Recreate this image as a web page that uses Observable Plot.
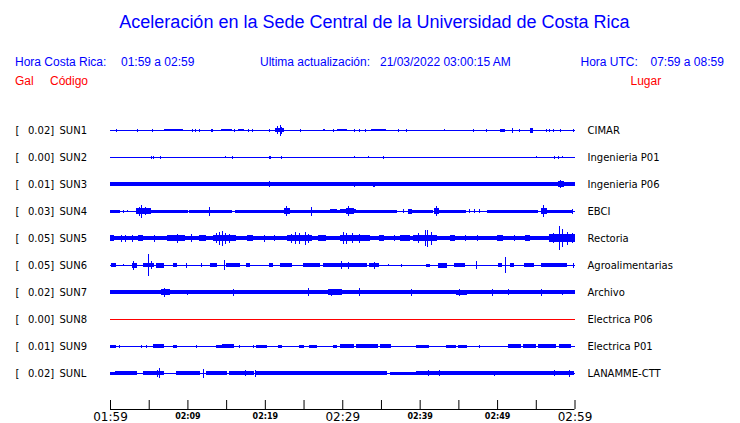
<!DOCTYPE html>
<html><head><meta charset="utf-8">
<script src="https://cdn.jsdelivr.net/npm/d3@7"></script>
<script src="https://cdn.jsdelivr.net/npm/@observablehq/plot@0.6"></script>
<style>
body{margin:0;background:#fff;}
#wrap{position:relative;width:740px;height:423px;overflow:hidden;font-family:"Liberation Sans",Arial,sans-serif;}
#chart{position:absolute;left:0;top:0;}
.h{position:absolute;white-space:nowrap;line-height:1;}
.b{color:#0000ff;font-size:12px;}
.r{color:#ff0000;font-size:12px;}
#title{left:0;width:749px;text-align:center;font-size:18px;color:#0000ff;top:12.5px;}
</style></head><body>
<div id="wrap">
<div id="chart"></div>
<div class="h" id="title">Aceleración en la Sede Central de la Universidad de Costa Rica</div>
<div class="h b" style="left:15px;top:55.5px">Hora Costa Rica:</div>
<div class="h b" style="left:121px;top:55.5px">01:59 a 02:59</div>
<div class="h b" style="left:260px;top:55.5px">Ultima actualización:</div>
<div class="h b" style="left:380px;top:55.5px">21/03/2022 03:00:15 AM</div>
<div class="h b" style="left:580.5px;top:55.5px">Hora UTC:</div>
<div class="h b" style="left:650.5px;top:55.5px">07:59 a 08:59</div>
<div class="h r" style="left:15px;top:74.5px">Gal</div>
<div class="h r" style="left:50px;top:74.5px">Código</div>
<div class="h r" style="left:630.5px;top:74.5px">Lugar</div>
</div>
<script>
// ---- data ----
const stations = ["SUN1","SUN2","SUN3","SUN4","SUN5","SUN6","SUN7","SUN8","SUN9","SUNL"];
const gals = ["0.02","0.00","0.01","0.03","0.05","0.05","0.02","0.00","0.01","0.02"];
const places = ["CIMAR","Ingenieria P01","Ingenieria P06","EBCI","Rectoria","Agroalimentarias","Archivo","Electrica P06","Electrica P01","LANAMME-CTT"];
const offline = ["SUN8"];
// background (noise) half-amplitude per station, relative units
const baseAmp = [0.5,0.5,1.6,0.5,2.2,0.5,1.7,0.5,0.5,0.5];
// envelope events: [minute start, minute end, half-amplitude]
const sun1 = [[0.87,0.87,1.5],[3.58,3.58,1.5],[5.52,5.52,1.5],[7.01,9.34,1.3],[10.63,10.63,1.5],[11.07,11.07,1.5],[11.62,11.62,1.5],[13.05,13.05,1.5],[13.27,13.27,1.5],[14.43,15.63,1.3],[16.06,16.06,1.5],[16.66,17.22,1.3],[17.86,17.86,1.5],[18.43,18.43,1.5],[20.58,20.58,1.5],[21.40,22.38,2.3],[21.7,21.7,4],[21.96,21.96,5.5],[22.15,22.15,3.5],[24.67,24.67,1.5],[27.55,27.77,1.3],[28.84,28.84,1.5],[29.45,30.61,1.3],[31.56,31.56,1.5],[32.29,32.29,1.5],[32.94,32.94,1.5],[33.80,35.61,1.3],[37.24,37.24,1.5],[38.32,38.32,1.5],[43.18,43.18,1],[46.93,46.93,1.5],[48.57,48.57,1.5],[50.50,50.93,1.5],[51.96,51.96,2.5],[52.96,52.96,1.5],[54.38,54.60,2.5],[56.32,56.32,1.5],[56.83,56.83,1.5],[57.26,57.26,1.5],[58.21,58.21,1.5],[59.84,59.84,1.5]];
const sun2 = [[5.39,5.39,1.5],[5.68,5.68,1.5],[6.52,6.52,1.5],[14.98,14.98,1],[15.82,15.82,1.5],[20.58,20.76,1.5],[22.09,22.09,1.5],[31.6,31.6,1],[33.45,33.45,1],[35.33,35.33,1.5],[55.09,55.09,1],[57.39,57.39,1.5],[57.99,57.99,1.5],[58.51,58.51,1]];
const sun3 = [[0.22,1.72,2],[1.85,1.85,2.2],[3.87,3.87,2.2],[4.17,4.17,2.2],[5.90,5.90,2.2],[7.01,7.01,2.2],[10.11,10.11,2.2],[12.27,12.27,2.2],[13.05,13.05,2.2],[17.22,17.22,2.2],[18.30,18.30,2.2],[20.58,20.58,3],[21.61,21.61,2.2],[26.91,26.91,2.2],[29.49,29.49,2.2],[31.56,31.56,2.5],[34.01,34.23,2.5],[35.22,35.22,2.2],[37.68,37.68,2.2],[38.45,38.45,2.2],[41.76,41.76,2.2],[43.92,43.92,2.2],[46.28,46.28,2.2],[49.30,49.30,2.2],[50.67,50.67,2.2],[57.90,58.55,3],[58.2,58.2,4]];
const sun4 = [[0,1.29,1.5],[1.68,1.68,1.5],[2.32,2.32,1.2],[3.45,5.17,2.7],[3.75,3.75,4.5],[4.09,4.09,6.5],[4.65,4.65,4],[5.17,10.07,1.5],[10.33,15.63,1.5],[12.83,12.83,4.5],[16.27,22.60,1.5],[22.48,23.25,2.7],[22.82,22.82,5],[23.25,29.71,1.5],[26.05,26.05,4.5],[28.42,29.32,2],[29.71,31.77,1.7],[30.57,31.43,3],[30.87,30.87,5],[31.77,37.07,1.5],[37.85,37.85,2],[38.53,38.97,2.5],[38.97,41.72,1.5],[41.98,42.49,2.7],[42.20,42.20,5],[42.49,45.98,1.5],[46.50,46.50,2],[47.02,47.02,2],[47.79,47.79,1.8],[48.82,55.28,1.5],[55.76,56.41,3.2],[56.06,56.06,6],[56.57,59.8,1.5],[59.8,59.8,2.5]];
const sun5 = [[0,0.4,3],[1.51,1.51,3.5],[1.94,1.94,3.5],[2.93,2.93,3.5],[3.62,4.26,3],[5.81,5.81,3.5],[7.49,9.56,3],[8.78,8.78,4.5],[10.55,10.55,4],[11.62,12.40,3],[13.43,16.27,3.3],[13.8,13.8,5],[14.08,14.08,6.5],[14.47,14.47,7.5],[14.98,14.98,5.5],[15.5,15.5,4.5],[17.70,18.47,3.3],[20.02,20.02,3.5],[21.31,21.31,3],[22.99,26.09,3.3],[23.5,23.5,4.5],[24.02,24.02,6],[24.54,24.54,5.5],[25.19,25.19,6.5],[25.7,25.7,4.5],[26.87,27.90,3],[29.71,33.58,3.3],[30.10,30.10,6],[30.61,30.61,5.5],[31.26,31.26,5],[32.2,32.2,4.5],[34.87,35.39,3],[36.81,36.81,3],[37.46,38.75,3],[39.14,42.11,3.3],[39.9,39.9,5],[40.69,40.69,8],[41.07,41.07,8.5],[41.59,41.59,6.5],[43.92,44.56,3],[45.98,45.98,3],[47.53,47.53,3],[49.99,50.76,3.2],[52.31,52.31,3],[53.61,54.25,3.2],[56.83,60,3.7],[57.3,57.3,5],[58.12,58.12,12],[58.51,58.51,9],[59.16,59.16,6.5],[59.7,59.7,5]];
const sun6 = [[0.13,0.65,2],[1.72,1.72,1],[2.93,3.36,2.5],[3.10,3.10,4.5],[4.30,5.68,2.3],[4.95,4.95,11],[5.30,5.30,4],[6.03,6.88,2.5],[8.18,8.62,2.2],[9.82,9.82,2.5],[11.79,11.79,2],[12.92,13.78,2],[14.85,14.85,5],[15.07,16.79,1.8],[17.66,17.99,2],[20.58,21.02,2],[21.96,23.47,2.2],[24.97,27.12,1.8],[27.55,29.28,1.6],[29.28,33.16,2.2],[29.84,29.84,4],[30.78,30.78,3.5],[33.58,34.66,2.2],[34.23,34.23,3.5],[35.95,35.95,1.2],[37.68,37.68,1.5],[40.91,41.24,1.5],[42.40,43.49,2.5],[44.56,45.85,2.2],[47.37,47.37,4],[50.16,50.59,2.2],[51.15,51.15,8],[51.67,52.09,2],[53.60,54.68,2.2],[55.76,58.99,1.6],[59.84,59.84,2.5]];
const sun7 = [[4.74,5.59,2.3],[6.68,7.75,2.8],[7.10,7.10,4.5],[9.98,9.98,2.5],[12.05,12.05,2.2],[15.93,15.93,3.5],[25.61,25.61,4],[28.20,29.93,2.7],[28.6,28.6,3.5],[32.29,32.29,4],[38.97,38.97,3.5],[44.78,46.07,2.5],[45.2,45.2,3.5],[49.43,49.43,3.5],[51.45,51.45,3],[52.53,53.39,2.3],[55.76,55.76,3.5],[58.47,58.47,2.5]];
const sun8 = [];
const sun9 = [[0,0.65,1.5],[1.29,1.29,1.5],[4.09,4.09,1.5],[4.74,4.74,1.5],[5.68,6.88,1.8],[8.18,8.62,1.5],[11.20,11.20,1.5],[13.78,14.43,1.5],[14.56,15.93,1.8],[16.79,16.79,1.5],[18.51,18.51,1.5],[18.95,20.24,1.5],[21.74,22.17,1.5],[24.54,24.97,1.5],[25.83,26.70,1.5],[28.84,29.28,1.5],[29.71,31.43,1.6],[31.86,33.58,1.6],[33.58,34.5,1.6],[34.9,36.17,1.6],[39.61,41.11,1.5],[43.49,44.6,1.5],[45.0,46.07,1.5],[47.79,47.79,1.5],[51.45,53.0,1.6],[53.4,55.0,1.6],[55.4,57.6,1.6],[58.0,59.42,1.6]];
const sunL = [[0,0.65,1.5],[0.65,3.45,2],[4.30,5.17,2],[5.39,6.88,2.3],[6.1,6.1,3.5],[6.39,6.39,5],[8.62,11.62,2],[12.05,12.05,4.5],[12.49,15.07,2],[15.50,18.51,2],[17.44,17.44,3],[18.73,18.73,3.5],[18.95,35.74,2],[36.17,39.61,1.5],[39.61,59.84,2],[41.11,41.11,3],[42.62,42.62,3],[49.73,49.73,2.5],[57.48,57.48,3],[59.29,59.29,3.5]];
const events = [sun1,sun2,sun3,sun4,sun5,sun6,sun7,sun8,sun9,sunL];
// time axis (minutes after 01:59)
const tickMinutes = [0,5,10,15,20,25,30,35,40,45,50,55,60];
const labelMinutes = [0,10,20,30,40,50,60];
const timeLabels = ["01:59","02:09","02:19","02:29","02:39","02:49","02:59"];
const majorLabels = ["01:59","02:29","02:59"];

// ---- build ----
const K = 1/27;          // amplitude unit -> row fraction
const AXIS = 10 + 1/3;   // axis row position
const colorOf = s => offline.includes(s) ? "#ff0000" : "#0000ff";
const rows = stations.map((s,i) => ({row:i, code:s, gal:gals[i], place:places[i], color:colorOf(s)}));
const segs = [];
rows.forEach((r,i) => {
  segs.push({row:i, t0:d3.min(tickMinutes), t1:d3.max(tickMinutes), amp:baseAmp[i], color:r.color});
  events[i].forEach(([a,b,amp]) => segs.push({row:i, t0:a, t1:b, amp, color:r.color}));
});
const labels = labelMinutes.map((m,i) => ({m, text:timeLabels[i], major: majorLabels.includes(timeLabels[i])}));
const FF = "DejaVu Sans, sans-serif";

const plot = Plot.plot({
  width: 740, height: 423,
  margin: 0,
  x: {domain:[0,60], range:[110,574.5], axis:null},
  y: {domain:[0,9], range:[130,373], axis:null},
  marks: [
    Plot.rect(segs, {x1:"t0", x2:"t1", y1:d=>d.row - d.amp*K, y2:d=>d.row + d.amp*K,
      fill:d=>d.color, insetLeft:-0.5, insetRight:-0.5, shapeRendering:"crispEdges"}),
    Plot.text(rows, {y:"row", text:()=>"[", frameAnchor:"left", dx:15, textAnchor:"start", fontSize:10, fontFamily:FF, fill:"black"}),
    Plot.text(rows, {y:"row", text:d=>d.gal+"]", frameAnchor:"left", dx:27.5, textAnchor:"start", fontSize:10, fontFamily:FF, fill:"black"}),
    Plot.text(rows, {y:"row", text:"code", frameAnchor:"left", dx:59, textAnchor:"start", fontSize:10, fontFamily:FF, fill:"black"}),
    Plot.text(rows, {y:"row", text:"place", frameAnchor:"left", dx:587, textAnchor:"start", fontSize:10, fontFamily:FF, fill:"black"}),
    Plot.ruleY([AXIS], {x1:d3.min(tickMinutes), x2:d3.max(tickMinutes), stroke:"black", strokeWidth:1}),
    Plot.ruleX(tickMinutes, {x:d=>d, y1:AXIS - 9*K, y2:AXIS, stroke:"black", strokeWidth:1}),
    Plot.text(labels.filter(d=>d.major), {x:"m", y:()=>AXIS, dy:7.4, text:"text", fontSize:12, fontFamily:FF, fill:"black", ariaLabel:"major-label"}),
    Plot.text(labels.filter(d=>!d.major), {x:"m", y:()=>AXIS, dy:6.6, text:"text", fontSize:8, fontWeight:"bold", fontFamily:FF, fill:"black"})
  ]
});
d3.select(plot).selectAll('g[aria-label="major-label"] text').attr("letter-spacing", "0.6px");
document.getElementById("chart").appendChild(plot);
</script>
</body></html>
